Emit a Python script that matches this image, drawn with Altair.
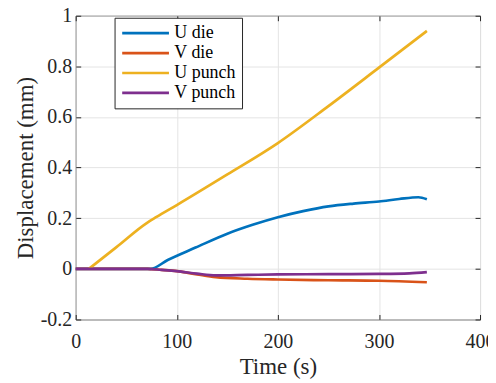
import altair as alt
import pandas as pd

# ---- data ----
series_names = ["U die", "V die", "U punch", "V punch"]
series_colors = ["#0072BD", "#D95319", "#EDB120", "#7E2F8E"]

t_u_die = [0, 40, 74, 91, 118.5, 150, 175, 200, 225, 250, 275, 300, 320, 339, 347.4]
u_die = [0, 0, 0, 0.035, 0.084, 0.139, 0.174, 0.204, 0.228, 0.247, 0.258, 0.266, 0.276, 0.283, 0.275]

t_v_die = [0, 40, 71, 85, 100, 120, 138.6, 170, 200, 250, 300, 347.4]
v_die = [0, 0, 0, -0.004, -0.009, -0.022, -0.033, -0.039, -0.042, -0.045, -0.047, -0.053]

t_u_punch = [13, 40, 70.6, 80, 100, 150, 200, 250, 300, 347.4]
u_punch = [0, 0.085, 0.182, 0.205, 0.252, 0.373, 0.497, 0.643, 0.795, 0.94]

t_v_punch = [0, 40, 71, 85, 100, 120, 138.6, 170, 200, 250, 300, 330, 347.4]
v_punch = [0, 0, 0, -0.004, -0.009, -0.019, -0.026, -0.024, -0.022, -0.021, -0.020, -0.018, -0.013]

x_ticks = [0, 100, 200, 300, 400]
y_ticks = [-0.2, 0, 0.2, 0.4, 0.6, 0.8, 1]

rows = []
for name, ts, vs in zip(series_names,
                        [t_u_die, t_v_die, t_u_punch, t_v_punch],
                        [u_die, v_die, u_punch, v_punch]):
    for i, (t, v) in enumerate(zip(ts, vs)):
        rows.append({"series": name, "t": t, "v": v, "i": i})
df = pd.DataFrame(rows)

FONT = "Liberation Serif"
AX = "#262626"
GRID = "#e4e4e4"
ylabel_expr = "datum.value < 0 ? '-' + format(-datum.value, '~g') : format(datum.value, '~g')"

x_scale = alt.Scale(domain=[0, 400], nice=False, zero=False)
y_scale = alt.Scale(domain=[-0.2, 1], nice=False, zero=False)

lines = alt.Chart(df).mark_line(strokeWidth=2.7, interpolate="monotone").encode(
    x=alt.X("t:Q", scale=x_scale,
            axis=alt.Axis(orient="bottom", values=x_ticks, title="Time (s)", grid=True, gridColor=GRID,
                          domain=False, tickSize=5, offset=-5, tickColor=AX, labelFlush=False,
                          labelPadding=12, labelFontSize=20, labelColor=AX, labelFont=FONT,
                          titleFont=FONT, titleFontSize=23, titleFontWeight="normal", titleColor=AX,
                          titlePadding=4)),
    y=alt.Y("v:Q", scale=y_scale,
            axis=alt.Axis(orient="left", values=y_ticks, title="Displacement (mm)", grid=True, gridColor=GRID,
                          domain=False, tickSize=5, offset=-5, tickColor=AX, labelFlush=False,
                          labelPadding=4, labelFontSize=20, labelColor=AX, labelFont=FONT,
                          labelExpr=ylabel_expr,
                          titleFont=FONT, titleFontSize=23, titleFontWeight="normal", titleColor=AX,
                          titlePadding=3)),
    color=alt.Color("series:N",
                    scale=alt.Scale(domain=series_names, range=series_colors),
                    legend=alt.Legend(orient="none", legendX=39, legendY=2, title=None,
                                      symbolType="M-1,0H5", symbolSize=245,
                                      symbolStrokeWidth=2.7, labelFontSize=18, labelFont=FONT,
                                      labelColor="#000000", labelOffset=35,
                                      strokeColor=AX, fillColor="white",
                                      padding=6, rowPadding=1)),
    order="i:Q",
)

frame = alt.Chart(df).mark_line(strokeOpacity=0).encode(
    x=alt.X("t:Q", scale=x_scale,
            axis=alt.Axis(orient="top", values=x_ticks, title=None, labels=False, grid=False,
                          domain=False, tickSize=5, offset=-5, tickColor=AX)),
    y=alt.Y("v:Q", scale=y_scale,
            axis=alt.Axis(orient="right", values=y_ticks, title=None, labels=False, grid=False,
                          domain=False, tickSize=5, offset=-5, tickColor=AX)),
    detail="series:N",
)

chart = alt.layer(lines, frame).resolve_scale(
    x="independent", y="independent"
).properties(
    width=406, height=305,
    autosize=alt.AutoSizeParams(type="none"),
    padding={"left": 68, "top": 7, "right": 8, "bottom": 61},
    view=alt.ViewBackground(stroke=AX, strokeWidth=1),
).configure(
    font=FONT
).configure_axis(
    labelFont=FONT, titleFont=FONT
).configure_legend(
    labelFont=FONT, titleFont=FONT
).configure_view(stroke=AX, strokeWidth=1)

chart.save("out.html", embed_options={"renderer": "svg", "actions": False})
